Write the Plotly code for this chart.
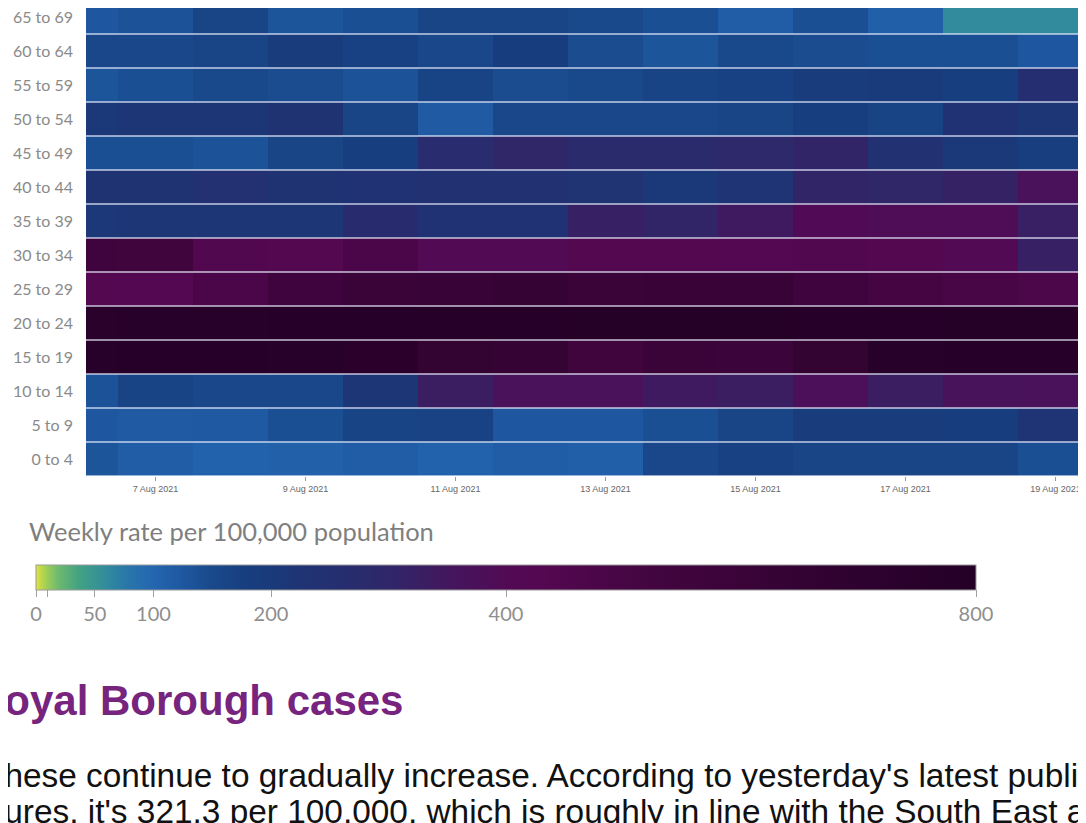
import pandas as pd
import plotly.graph_objects as go

# ---- data ----
dates = pd.date_range("2021-08-06", "2021-08-19", freq="D")
age_groups = ["0 to 4", "5 to 9", "10 to 14", "15 to 19", "20 to 24", "25 to 29",
              "30 to 34", "35 to 39", "40 to 44", "45 to 49", "50 to 54",
              "55 to 59", "60 to 64", "65 to 69"]

rate_0_4 = [130, 115, 108, 110, 115, 108, 115, 112, 155, 170, 160, 160, 160, 140]
rate_5_9 = [125, 120, 122, 140, 165, 168, 125, 125, 140, 160, 190, 190, 185, 225]
rate_10_14 = [135, 165, 155, 155, 215, 330, 370, 370, 340, 330, 380, 330, 365, 370]
rate_15_19 = [760, 770, 770, 760, 730, 660, 640, 540, 600, 590, 660, 760, 770, 770]
rate_20_24 = [750, 760, 760, 770, 770, 780, 780, 790, 790, 790, 780, 780, 790, 790]
rate_25_29 = [430, 425, 480, 560, 600, 620, 630, 600, 610, 620, 560, 510, 490, 470]
rate_30_34 = [560, 540, 440, 430, 480, 400, 405, 430, 430, 425, 440, 430, 400, 320]
rate_35_39 = [210, 215, 215, 215, 270, 235, 235, 320, 305, 340, 395, 390, 390, 325]
rate_40_44 = [230, 230, 250, 230, 235, 240, 240, 232, 205, 225, 305, 300, 315, 370]
rate_45_49 = [140, 140, 135, 160, 175, 275, 300, 280, 280, 290, 305, 240, 205, 180]
rate_50_54 = [205, 215, 215, 230, 160, 120, 155, 155, 155, 160, 175, 165, 235, 215]
rate_55_59 = [130, 140, 150, 145, 135, 165, 145, 150, 165, 170, 190, 195, 175, 260]
rate_60_64 = [155, 155, 160, 190, 170, 155, 185, 145, 130, 150, 145, 140, 140, 125]
rate_65_69 = [125, 135, 160, 130, 140, 160, 160, 150, 140, 115, 140, 112, 60, 60]

z_rows = [rate_0_4, rate_5_9, rate_10_14, rate_15_19, rate_20_24, rate_25_29,
          rate_30_34, rate_35_39, rate_40_44, rate_45_49, rate_50_54,
          rate_55_59, rate_60_64, rate_65_69]

cbar_tickvals = [0, 10, 50, 100, 200, 400, 800]
cbar_ticktext = ["0", "", "50", "100", "200", "400", "800"]
zmax = 800

colorscale = [
    [0.0, "#e2e33e"], [0.005, "#c0d848"], [0.015, "#8ec860"], [0.025, "#6ab870"],
    [0.046, "#42a282"], [0.0625, "#389692"], [0.08, "#2e86a0"], [0.1, "#2874ab"],
    [0.125, "#2466b0"], [0.155, "#1e58a0"], [0.185, "#1a4a8c"], [0.22, "#173f80"],
    [0.25, "#1a3a7a"], [0.28, "#1e3474"], [0.325, "#252e70"], [0.37, "#2e286a"],
    [0.41, "#3a1e62"], [0.45, "#46145c"], [0.5, "#520a55"], [0.54, "#530850"],
    [0.6, "#4a0648"], [0.665, "#42053f"], [0.71, "#3e043c"], [0.81, "#340333"],
    [0.92, "#2a012c"], [1.0, "#240026"],
]

# ---- geometry (page has an 8px body margin) ----
OFF = 8
W, H = 1086 - OFF, 823 - OFF
PLOT_LEFT_PAGE, PLOT_BOTTOM_PAGE = 86, 476
ML, MR, MT = PLOT_LEFT_PAGE - OFF, 0, 0
MB = H - (PLOT_BOTTOM_PAGE - OFF)
pw, ph = W - ML - MR, H - MT - MB
ROW_PX, DAY_PX, FIRST_TICK_PAGE = 34, 75, 155.5


def px_x(p):
    return (p - OFF - ML) / pw


def px_y(p):
    return (H - MB - (p - OFF)) / ph


fig = go.Figure()
fig.add_trace(go.Heatmap(
    x=dates, y=age_groups, z=z_rows,
    zmin=0, zmax=zmax, colorscale=colorscale,
    colorbar=dict(
        orientation="h", lenmode="pixels", len=940, thickness=25,
        x=px_x(506), xanchor="center", y=px_y(565), yanchor="top",
        xpad=0, ypad=0,
        outlinecolor="#9a9a9a", outlinewidth=1,
        tickvals=cbar_tickvals, ticktext=cbar_ticktext,
        ticks="outside", ticklen=7, tickcolor="#a0a0a0",
        tickfont=dict(family="Lato", size=20, color="#8e8e8e"),
    ),
    hoverongaps=False,
))

# row separators
n = len(age_groups)
for i in range(n + 1):
    fig.add_shape(type="line", xref="paper", x0=0, x1=1, yref="y",
                  y0=i - 0.5, y1=i - 0.5,
                  line=dict(color="rgba(235,240,255,0.6)", width=2), layer="above")

x_left = dates[1] - pd.Timedelta(days=(FIRST_TICK_PAGE - PLOT_LEFT_PAGE) / DAY_PX)
x_right = dates[1] + pd.Timedelta(days=(1086 - FIRST_TICK_PAGE) / DAY_PX)
y_top = -0.5 + ph / ROW_PX

fig.update_layout(
    width=W, height=H,
    margin=dict(l=ML, r=MR, t=MT, b=MB),
    paper_bgcolor="white", plot_bgcolor="white",
    xaxis=dict(
        type="date", range=[x_left, x_right], automargin=False,
        tick0=dates[1], dtick=2 * 86400000, tickformat="%-d %b %Y",
        ticks="outside", ticklen=4, tickcolor="#9a9a9a",
        tickfont=dict(family="Liberation Sans", size=9, color="#666666"),
        showgrid=False, zeroline=False, showline=False,
    ),
    yaxis=dict(
        type="category", showgrid=False, zeroline=False, showline=False,
        automargin=False, ticks="", ticklabelstandoff=12,
        tickfont=dict(family="Lato", size=16, color="#8a8a8a"),
        range=[-0.5, y_top],
    ),
    annotations=[
        dict(text="Weekly rate per 100,000 population", xref="paper", yref="paper",
             x=px_x(27), y=px_y(531), xanchor="left", yanchor="middle",
             showarrow=False, font=dict(family="Lato", size=25.5, color="#7f7f7f")),
        dict(text="<b>Royal Borough cases</b>", xref="paper", yref="paper",
             x=px_x(-28), y=px_y(700), xanchor="left", yanchor="middle",
             showarrow=False, font=dict(family="Liberation Sans", size=42, color="#76247e")),
        dict(text="These continue to gradually increase. According to yesterday's latest published",
             xref="paper", yref="paper", x=px_x(-18), y=px_y(775),
             xanchor="left", yanchor="middle", showarrow=False,
             font=dict(family="Liberation Sans", size=33.4, color="#111111")),
        dict(text="figures, it's 321.3 per 100,000, which is roughly in line with the South East average",
             xref="paper", yref="paper", x=px_x(-33), y=px_y(811),
             xanchor="left", yanchor="middle", showarrow=False,
             font=dict(family="Liberation Sans", size=33.4, color="#111111")),
    ],
)

fig.write_html("out.html")
